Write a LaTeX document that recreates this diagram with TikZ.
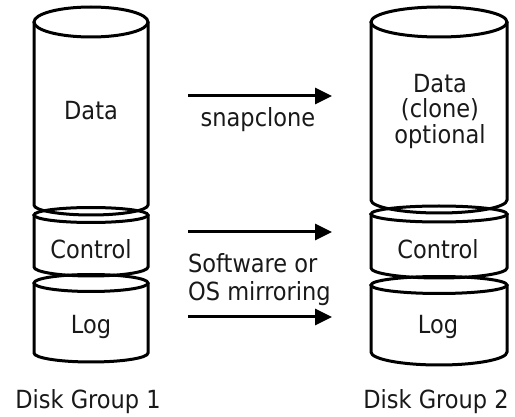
\documentclass[tikz,border=0pt]{standalone}
\usepackage{fontspec}
\setmainfont{DejaVu Sans Condensed}
\usepackage{tikz}
\usetikzlibrary{arrows.meta}
\tikzset{
  disk/.style = {draw = black, line width = 3pt},
  flow/.style = {draw = black, line width = 3pt, -{Triangle[length=17pt,width=16pt]}},
  word/.style = {black!90, font=\fontsize{25}{25.5}\selectfont, anchor = base, inner sep = 0pt},
}

\begin{document}
\begin{tikzpicture}[x=1pt,y=-1pt]
  \useasboundingbox (0,0) rectangle (515,417);
% disk groups: centre/x radius/top/top radius/bottom/bottom radius
  \foreach \cx/\rx/\yt/\ryt/\yb/\ryb in {91/57/22/15/205/10, 91/57/215/7.5/267/9, 91/57/283/8.5/353/9,
                                         439/68/22/15/200/13, 439/68/214/8/268/10, 439/68/285/8.5/352/13}{
    \draw[disk] (\cx,\yt) ellipse [x radius=\rx pt, y radius=\ryt pt];
    \draw[disk] (\cx-\rx,\yt) -- (\cx-\rx,\yb)
      arc [start angle=180, end angle=360, x radius=\rx pt, y radius=\ryb pt] -- (\cx+\rx,\yt);
  }
  \node[word] (data1) at (91,120) {Data};
  \node[word] (ctl1)  at (91,259) {Control};
  \node[word] (log1)  at (91,334) {Log};
  \node[word] (grp1)  at (88,408) {Disk Group 1};
  \node[word, anchor=north, align=center] (data2) at (440,74) {Data\\(clone)\\optional};
  \node[word] (ctl2)  at (438,259) {Control};
  \node[word] (log2)  at (438,334) {Log};
  \node[word] (grp2)  at (436,408) {Disk Group 2};
% copies
  \coordinate (s1) at (188,96);  \coordinate (e1) at (332,96);
  \coordinate (s2) at (188,232); \coordinate (e2) at (332,232);
  \coordinate (s3) at (188,317); \coordinate (e3) at (332,317);
  \draw[flow] (s1) -- (e1);
  \draw[flow] (s2) -- (e2);
  \draw[flow] (s3) -- (e3);
  \node[word] (snap) at (258,127) {snapclone};
  \node[word, anchor=north west, align=left, font=\fontsize{25}{28.5}\selectfont] (mirr) at (188,253) {Software or\\OS mirroring};
\end{tikzpicture}
\end{document}
